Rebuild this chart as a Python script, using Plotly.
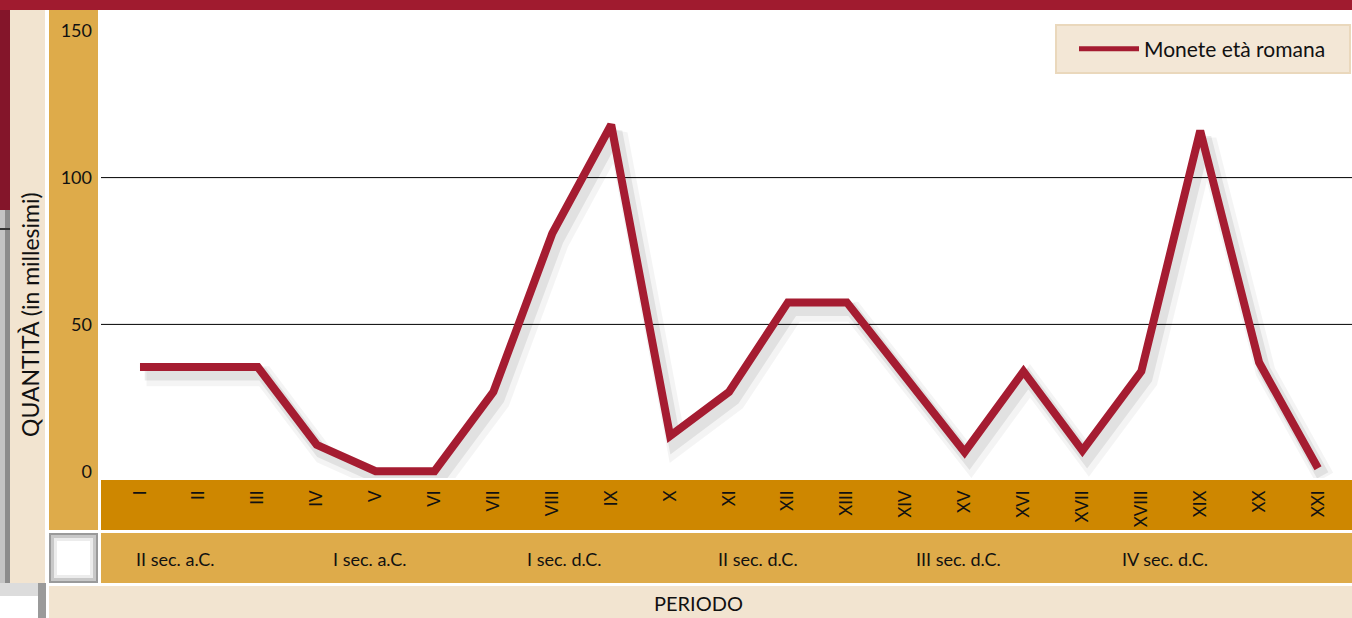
import plotly.graph_objects as go

# ---------------- data ----------------
periodi = ["I", "II", "III", "IV", "V", "VI", "VII", "VIII", "IX", "X", "XI",
           "XII", "XIII", "XIV", "XV", "XVI", "XVII", "XVIII", "XIX", "XX", "XXI"]
monete = [35.5, 35.5, 35.5, 9, 0, 0, 27, 81, 118, 12, 27,
          57.5, 57.5, 32, 6.5, 34, 7, 34, 116, 37, 1]
secoli = ["II sec. a.C.", "I sec. a.C.", "I sec. d.C.",
          "II sec. d.C.", "III sec. d.C.", "IV sec. d.C."]
y_ticks = [0, 50, 100, 150]
grid_values = [50, 100]

# ---------------- layout helpers ----------------
W, H = 1352, 618
secoli_x = [0.6, 3.9, 7.2, 10.5, 13.9, 17.4]  # label positions on the category axis
x_idx = list(range(len(periodi)))

RED = "#A51C31"
BEIGE = "#F2E4D0"
GOLD = "#DEAB4A"
ORANGE = "#CE8700"
FONT = "Lato"


def px(x):
    return x / W


def py(y):
    return 1 - y / H


def rect(x0, y0, x1, y1, color, line=None):
    return dict(type="rect", xref="paper", yref="paper",
                x0=px(x0), x1=px(x1), y0=py(y1), y1=py(y0),
                fillcolor=color, line=line or dict(width=0), layer="below")


fig = go.Figure()

# soft drop shadow of the line (derived from the same data)
for w, a, dx, dy in [(20, 0.045, 0.11, -3.2), (13, 0.075, 0.08, -2.4)]:
    fig.add_trace(go.Scatter(
        x=[i + dx for i in x_idx], y=[v + dy for v in monete],
        mode="lines", line=dict(color=f"rgba(0,0,0,{a})", width=w),
        showlegend=False, hoverinfo="skip"))

fig.add_trace(go.Scatter(
    x=x_idx, y=monete, mode="lines", name="Monete età romana",
    line=dict(color=RED, width=8)))

shapes = [
    # top red bar and left red strip
    rect(0, 0, W, 10, "#A01B2F"),
    rect(0, 10, 10, 210, "#84152A"),
    # grey shadow strip on the left
    rect(0, 210, 5, 583, "#c4c4c4"),
    rect(5, 210, 10, 583, "#8c8c8c"),
    rect(0, 228, 10, 230, "#333333"),
    rect(0, 583, 45, 596, "#dcdcdc"),
    rect(38, 583, 46, 618, "#9a9a9a"),
    # left beige panel (axis title)
    rect(10, 10, 45, 583, BEIGE),
    # gold y-tick panel
    rect(49, 10, 98, 530, GOLD),
    # x tick band
    rect(101, 480, W, 530, ORANGE),
    # small shadowed square
    rect(49, 533, 98, 583, "#9a9a9a"),
    rect(51, 535, 96, 581, "#c8c8c8"),
    rect(54, 538, 93, 578, "#ececec"),
    rect(57, 541, 90, 575, "#ffffff"),
    # century band
    rect(101, 533, W, 583, GOLD),
    # bottom band
    rect(49, 586, W, H, BEIGE),
    # legend box background
    rect(1056, 25, 1350, 73, "#F3E7D6", line=dict(color="#EAD8BC", width=2)),
]
for g in grid_values:
    shapes.append(dict(type="line", xref="paper", yref="y", x0=px(101), x1=1,
                       y0=g, y1=g, line=dict(color="#000000", width=1), layer="below"))

annotations = [
    dict(text="QUANTITÀ (in millesimi)", xref="paper", yref="paper",
         x=px(30), y=py(315), xanchor="center", yanchor="middle",
         textangle=-90, showarrow=False,
         font=dict(family=FONT, size=23, color="#111111")),
    dict(text="PERIODO", xref="paper", yref="paper",
         x=px(698), y=py(603), xanchor="center", yanchor="middle", showarrow=False,
         font=dict(family=FONT, size=20, color="#111111")),
]
for s, xs in zip(secoli, secoli_x):
    annotations.append(dict(text=s, xref="x", yref="paper", x=xs, y=py(559),
                            xanchor="center", yanchor="middle", showarrow=False,
                            font=dict(family=FONT, size=18, color="#111111")))

y0_px, slope = 471.2, 2.936
fig.update_layout(
    width=W, height=H, autosize=False,
    margin=dict(l=0, r=0, t=0, b=0, pad=0, autoexpand=False),
    paper_bgcolor="white", plot_bgcolor="rgba(0,0,0,0)",
    font=dict(family=FONT, color="#111111"),
    shapes=shapes, annotations=annotations,
    showlegend=True,
    legend=dict(x=px(1074), y=py(49), xanchor="left", yanchor="middle",
                bgcolor="rgba(0,0,0,0)", borderwidth=0,
                itemwidth=60, itemsizing="constant",
                font=dict(family=FONT, size=21, color="#111111")),
    xaxis=dict(domain=[px(101), 1], range=[-0.662, 20.577], automargin=False,
               tickmode="array", tickvals=x_idx, ticktext=periodi,
               tickangle=-90, ticks="", showgrid=False, zeroline=False,
               showline=False, ticklabelstandoff=8,
               tickfont=dict(family=FONT, size=17, color="#111111")),
    yaxis=dict(domain=[py(478), py(10)], automargin=False,
               range=[(y0_px - 478) / slope, (y0_px - 10) / slope],
               tickmode="array", tickvals=y_ticks, ticks="", showgrid=False,
               zeroline=False, showline=False, ticklabelstandoff=8,
               tickfont=dict(family=FONT, size=18, color="#111111")),
)

fig.write_html("out.html")
